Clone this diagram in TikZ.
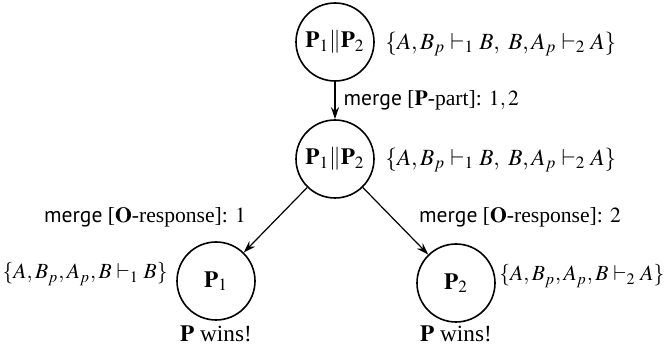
\documentclass[tikz,border=0pt]{standalone}
\usepackage{mathptmx}
\usepackage[no-math]{fontspec}
\setmainfont{Liberation Serif}
\newfontfamily\mergefont{PT Sans}
\usetikzlibrary{arrows.meta}
\newcommand{\mrg}{{\mergefont merge}}
\begin{document}
\begin{tikzpicture}[x=0.5pt,y=-0.5pt,
  every node/.style={font=\fontsize{11.6}{14}\selectfont},
  small/.style={font=\fontsize{10.8}{13}\selectfont},
  st/.style={circle,draw,line width=0.8pt,minimum size=39pt,inner sep=0pt},
  lbl/.style={inner sep=0pt},
  arr/.style={-{Stealth[length=6pt,width=4pt]},line width=0.6pt}]
\useasboundingbox (0,0) rectangle (665,347);
\node[st] (top) at (335,42) {$\mathbf{P}_1\|\mathbf{P}_2$};
\node[st] (mid) at (335,159) {$\mathbf{P}_1\|\mathbf{P}_2$};
\node[st] (l) at (216,281) {$\mathbf{P}_1$};
\node[st] (r) at (456,283) {$\mathbf{P}_2$};
\node[lbl,anchor=west] (ts) at (385,44) {$\{A,B_p\vdash_1 B,\ B,A_p\vdash_2 A\}$};
\node[lbl,anchor=west] (ms) at (385,160) {$\{A,B_p\vdash_1 B,\ B,A_p\vdash_2 A\}$};
\node[lbl,small,anchor=east] (ls) at (168,274) {$\{A,B_p,A_p,B\vdash_1 B\}$};
\node[lbl,small,anchor=west] (rs) at (499,276) {$\{A,B_p,A_p,B\vdash_2 A\}$};
\draw[arr] (top) -- node[right=4pt,lbl,small] (e1) {\mrg\ [$\mathbf{P}$-part]: $1,2$} (mid);
\draw[arr] (mid) -- (l);
\draw[arr] (mid) -- (r);
\node[lbl,small] (le) at (145,217) {\mrg\ [$\mathbf{O}$-response]: $1$};
\node[lbl,small] (re) at (520,217) {\mrg\ [$\mathbf{O}$-response]: $2$};
\node[lbl] (lw) at (216,334) {$\mathbf{P}$ wins!};
\node[lbl] (rw) at (456,334) {$\mathbf{P}$ wins!};
\end{tikzpicture}
\end{document}
